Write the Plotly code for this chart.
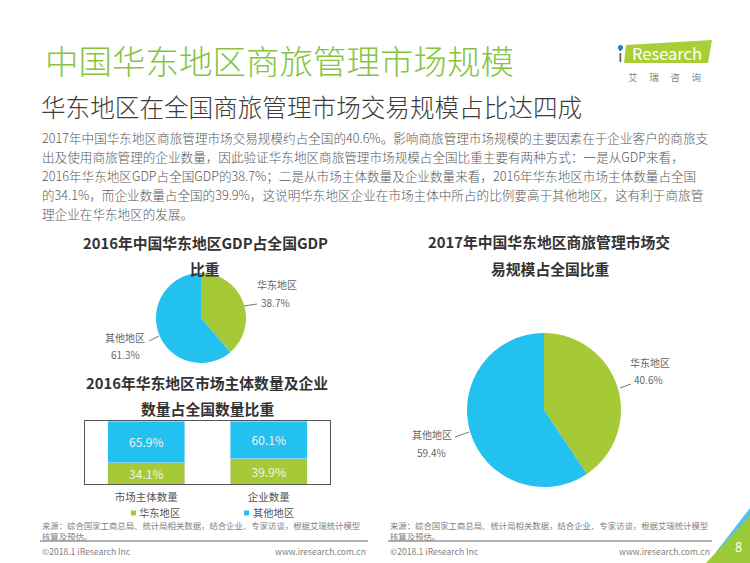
import plotly.graph_objects as go

# ---------------- data ----------------
regions = ["华东地区", "其他地区"]
gdp_share = [38.7, 61.3]            # 2016 GDP share
trade_share = [40.6, 59.4]          # 2017 business-travel trade share
bar_categories = ["市场主体数量", "企业数量"]
east_share = [34.1, 39.9]           # 华东地区
other_share = [65.9, 60.1]          # 其他地区

GREEN = "#a6c937"
BLUE = "#22c1ef"
FONT = "Noto Sans CJK SC"
W, H = 750, 563


def px(x):
    return x / W


def py(y):
    return 1 - y / H


fig = go.Figure()

# ---------------- pies ----------------
def pie_domain(cx, cy, r):
    return dict(x=[px(cx - r), px(cx + r)], y=[py(cy + r), py(cy - r)])


fig.add_trace(go.Pie(
    labels=regions, values=gdp_share, sort=False, direction="clockwise",
    rotation=0, marker=dict(colors=[GREEN, BLUE], line=dict(width=0)),
    textinfo="none", hoverinfo="label+percent", showlegend=False,
    domain=pie_domain(201, 318, 45)))

fig.add_trace(go.Pie(
    labels=regions, values=trade_share, sort=False, direction="clockwise",
    rotation=0, marker=dict(colors=[GREEN, BLUE], line=dict(width=0)),
    textinfo="none", hoverinfo="label+percent", showlegend=False,
    domain=pie_domain(544, 410, 77)))

# ---------------- stacked bars ----------------
fig.add_trace(go.Bar(
    x=bar_categories, y=east_share, name="华东地区", marker_color=GREEN,
    texttemplate="%{y:.1f}%", textposition="inside", insidetextanchor="middle",
    constraintext="none", textfont=dict(color="#f2f2f2", size=12, family=FONT),
    showlegend=False))
fig.add_trace(go.Bar(
    x=bar_categories, y=other_share, name="其他地区", marker_color=BLUE,
    texttemplate="%{y:.1f}%", textposition="inside", insidetextanchor="middle",
    constraintext="none", textfont=dict(color="#f2f2f2", size=12, family=FONT),
    showlegend=False))

fig.update_layout(
    barmode="stack", bargap=0.37,
    xaxis=dict(domain=[px(85), px(330)], showline=True, mirror=True,
               linecolor="#555555", linewidth=1, showgrid=False,
               ticks="outside", ticklen=3, tickcolor="rgba(0,0,0,0)",
               tickfont=dict(size=10.5, color="#555555", family=FONT),
               fixedrange=True),
    yaxis=dict(domain=[py(484), py(421)], range=[0, 100], showline=True,
               mirror=True, linecolor="#555555", linewidth=1,
               showgrid=False, showticklabels=False, zeroline=False,
               ticks="", fixedrange=True),
)

# ---------------- text ----------------
ann = []


def text(x, y, s, size, color, xanchor="left", bold=False, weight=None):
    if bold:
        s = "<b>" + s + "</b>"
    f = dict(size=size, color=color, family=FONT)
    if weight is not None:
        f["weight"] = weight
    ann.append(dict(x=px(x), y=py(y), xref="paper", yref="paper", text=s,
                    showarrow=False, xanchor=xanchor, yanchor="middle",
                    align="left", font=f))


text(43, 60, "中国华东地区商旅管理市场规模", 33.5, "#86c440", weight=300)
text(39, 106, "华东地区在全国商旅管理市场交易规模占比达四成", 24.6, "#3c3c3c", weight=300)

para = [
    f"2017年中国华东地区商旅管理市场交易规模约占全国的{trade_share[0]}%。影响商旅管理市场规模的主要因素在于企业客户的商旅支",
    "出及使用商旅管理的企业数量，因此验证华东地区商旅管理市场规模占全国比重主要有两种方式：一是从GDP来看，",
    f"2016年华东地区GDP占全国GDP的{gdp_share[0]}%；二是从市场主体数量及企业数量来看，2016年华东地区市场主体数量占全国",
    f"的{east_share[0]}%，而企业数量占全国的{east_share[1]}%，这说明华东地区企业在市场主体中所占的比例要高于其他地区，这有利于商旅管",
    "理企业在华东地区的发展。",
]
for i, line in enumerate(para):
    text(40, 137 + 19 * i, line, 12.6, "#595959", weight=300)

# chart titles
text(205, 242, "2016年中国华东地区GDP占全国GDP", 14.8, "#333333", "center", True)
text(205, 268, "比重", 14.8, "#333333", "center", True)
text(207, 382, "2016年华东地区市场主体数量及企业", 14.8, "#333333", "center", True)
text(207, 408, "数量占全国数量比重", 14.8, "#333333", "center", True)
text(549, 241, "2017年中国华东地区商旅管理市场交", 14.8, "#333333", "center", True)
text(550, 268, "易规模占全国比重", 14.8, "#333333", "center", True)

# pie labels
LBL = "#666666"
text(255, 284, regions[0], 10, LBL)
text(259, 302, f"{gdp_share[0]:.1f}%", 10, LBL)
text(147, 337, regions[1], 10, LBL, "right")
text(142, 354, f"{gdp_share[1]:.1f}%", 10, LBL, "right")
text(628, 362, regions[0], 10, LBL)
text(632, 380, f"{trade_share[0]:.1f}%", 10, LBL)
text(454, 434, regions[1], 10, LBL, "right")
text(448, 452, f"{trade_share[1]:.1f}%", 10, LBL, "right")

# legend
text(137, 512.5, "华东地区", 10.3, "#555555")
text(251, 512.5, "其他地区", 10.3, "#555555")

# footers
SRC = ("来源：综合国家工商总局、统计局相关数据，结合企业、专家访谈，根据艾瑞统计模型"
       "<br>核算及预估。")
for x0, x1 in [(40, 368), (388, 712)]:
    text(x0, 530.5, SRC, 8.4, "#808080")
    text(x0, 551, "©2018.1 iResearch Inc", 8.6, "#808080")
    text(x1, 551, "www.iresearch.com.cn", 8.6, "#808080", "right")

# logo text
text(667, 53, "Research", 16.5, "#ffffff", "center")
text(620, 55, "i", 16.5, "#555555", "center")
text(664, 77, "艾　 瑞　 咨　 询", 9.5, "#888888", "center")
text(738, 546, "8", 13, "#ffffff", "center")

# ---------------- shapes ----------------
shapes = []


def line(x0, y0, x1, y1, color="#777777", width=1):
    shapes.append(dict(type="line", xref="paper", yref="paper",
                       x0=px(x0), y0=py(y0), x1=px(x1), y1=py(y1),
                       line=dict(color=color, width=width)))


def poly(pts, color):
    path = "M " + " L ".join(f"{px(x)},{py(y)}" for x, y in pts) + " Z"
    shapes.append(dict(type="path", xref="paper", yref="paper", path=path,
                       fillcolor=color, line=dict(width=0), layer="below"))


# leader lines
line(244, 306, 257, 304)
line(149, 341, 159, 336)
line(620, 388, 631, 384)
line(455, 437, 469, 432)

# legend squares
for x, c in [(131, GREEN), (244, BLUE)]:
    shapes.append(dict(type="rect", xref="paper", yref="paper",
                       x0=px(x), x1=px(x + 5), y0=py(515.5), y1=py(510.5),
                       fillcolor=c, line=dict(width=0)))

# footer separators
line(40, 541, 368, 541, "#666666", 1)
line(388, 541, 712, 541, "#666666", 1)

# logo box
poly([(626, 45), (712, 40), (708, 63), (624, 63)], "#a9cf38")
shapes.append(dict(type="circle", xref="paper", yref="paper",
                   x0=px(618), x1=px(623), y0=py(50), y1=py(45),
                   fillcolor="#2a7fc0", line=dict(width=0)))

# corner decoration
poly([(716, 552), (750, 508), (750, 524), (726, 552)], "#4fc3ea")
poly([(706, 563), (750, 516), (750, 563)], "#9cc93a")

fig.update_layout(
    width=W, height=H, margin=dict(l=0, r=0, t=0, b=0),
    paper_bgcolor="white", plot_bgcolor="white",
    font=dict(family=FONT), annotations=ann, shapes=shapes,
    showlegend=False,
)

fig.write_html(
    "out.html",
    config={"displayModeBar": False},
    post_script="document.body.style.margin='0';document.body.style.padding='0';",
)
